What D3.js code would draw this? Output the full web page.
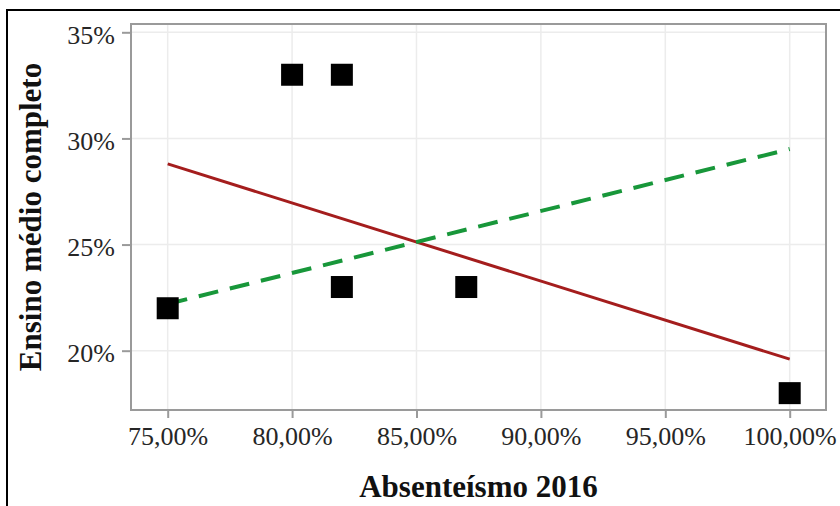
<!DOCTYPE html>
<html>
<head>
<meta charset="utf-8">
<script src="https://cdn.jsdelivr.net/npm/d3@7"></script>
<style>
  html, body { margin: 0; padding: 0; background: #fff; }
  svg { display: block; }
</style>
</head>
<body>
<svg id="chart" width="840" height="506"></svg>
<script>
// Scatter of absenteeism (2016) vs. share with complete secondary schooling
const absenteeism = [75, 80, 82, 82, 87, 100];
const secondaryComplete = [22, 33, 33, 23, 23, 18];

// Trend lines: endpoints at x = 75 and x = 100
const trendX = [75, 100];
const trendRed = [28.8, 19.6];
const trendGreen = [22.2, 29.5];

const xTicks = [75, 80, 85, 90, 95, 100];
const xTickLabels = ["75,00%", "80,00%", "85,00%", "90,00%", "95,00%", "100,00%"];
const yTicks = [20, 25, 30, 35];
const yTickLabels = ["20%", "25%", "30%", "35%"];

const svg = d3.select("#chart");
const plot = { left: 131, right: 826, top: 24, bottom: 410 };
const serif = "'Liberation Serif', 'Times New Roman', serif";

const x = d3.scaleLinear().domain([73.525, 101.459]).range([plot.left, plot.right]);
const y = d3.scaleLinear().domain([17.206, 35.391]).range([plot.bottom, plot.top]);

// outer frame (top and left edges)
svg.append("path")
  .attr("d", "M7,506 L7,10 L840,10")
  .attr("fill", "none")
  .attr("stroke", "#000")
  .attr("stroke-width", 2);

// gridlines
const grid = svg.append("g").attr("stroke", "#ececec").attr("stroke-width", 1.5);
grid.selectAll("line.gx").data(xTicks).join("line")
  .attr("class", "gx")
  .attr("x1", d => x(d)).attr("x2", d => x(d))
  .attr("y1", plot.top).attr("y2", plot.bottom);
grid.selectAll("line.gy").data(yTicks).join("line")
  .attr("class", "gy")
  .attr("x1", plot.left).attr("x2", plot.right)
  .attr("y1", d => y(d)).attr("y2", d => y(d));

// plot border
svg.append("rect")
  .attr("x", plot.left).attr("y", plot.top)
  .attr("width", plot.right - plot.left).attr("height", plot.bottom - plot.top)
  .attr("fill", "none").attr("stroke", "#9a9a9a").attr("stroke-width", 2);

// axes
const xAxis = d3.axisBottom(x).tickValues(xTicks)
  .tickFormat((d, i) => xTickLabels[i]).tickSizeOuter(0).tickSize(8).tickPadding(6);
const yAxis = d3.axisLeft(y).tickValues(yTicks)
  .tickFormat((d, i) => yTickLabels[i]).tickSizeOuter(0).tickSize(9).tickPadding(7);

const gx = svg.append("g").attr("transform", `translate(0,${plot.bottom})`).call(xAxis);
const gy = svg.append("g").attr("transform", `translate(${plot.left},0)`).call(yAxis);

[gx, gy].forEach(g => {
  g.select(".domain").remove();
  g.selectAll(".tick line").attr("stroke", "#9a9a9a").attr("stroke-width", 2);
  g.selectAll(".tick text")
    .attr("fill", "#262626")
    .style("font-family", serif)
    .style("font-size", "26px");
});
gx.selectAll(".tick text").attr("dy", "0.82em");
gy.selectAll(".tick text").attr("dy", "0.42em");

// trend lines
const line = d3.line().x(d => x(d[0])).y(d => y(d[1]));
svg.append("path")
  .datum(trendX.map((v, i) => [v, trendRed[i]]))
  .attr("d", line)
  .attr("fill", "none").attr("stroke", "#a41d1d").attr("stroke-width", 3);
svg.append("path")
  .datum(trendX.map((v, i) => [v, trendGreen[i]]))
  .attr("d", line)
  .attr("fill", "none").attr("stroke", "#18973a").attr("stroke-width", 4)
  .attr("stroke-dasharray", "20,12");

// points
const size = 22;
svg.append("g").selectAll("rect").data(absenteeism).join("rect")
  .attr("x", d => x(d) - size / 2)
  .attr("y", (d, i) => y(secondaryComplete[i]) - size / 2)
  .attr("width", size).attr("height", size)
  .attr("fill", "#000");

// axis titles
svg.append("text")
  .attr("x", (plot.left + plot.right) / 2).attr("y", 497)
  .attr("text-anchor", "middle")
  .style("font-family", serif)
  .style("font-weight", "bold").style("font-size", "31px")
  .attr("fill", "#111")
  .text("Absenteísmo 2016");

svg.append("text")
  .attr("transform", `translate(41,${(plot.top + plot.bottom) / 2}) rotate(-90)`)
  .attr("text-anchor", "middle")
  .style("font-family", serif)
  .style("font-weight", "bold").style("font-size", "31px")
  .attr("fill", "#111")
  .text("Ensino médio completo");
</script>
</body>
</html>
